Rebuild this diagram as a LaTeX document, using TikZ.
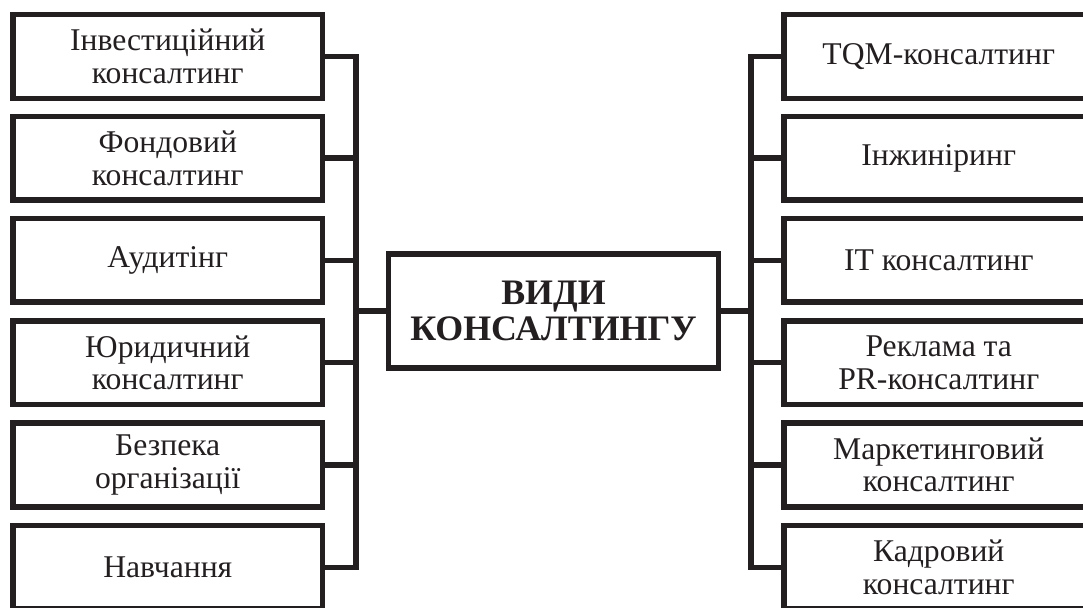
\documentclass[tikz,border=0pt]{standalone}
\usepackage{fontspec}
\setmainfont{Liberation Serif}
\definecolor{ink}{RGB}{35,31,32}
\tikzset{
    kind/.style={draw=ink, line width=3.9pt, minimum width=7.74cm,
                 minimum height=2.09cm, inner sep=2pt, align=center,
                 text=ink, font=\fontsize{22.5}{23.2}\selectfont},
    hub/.style={kind, minimum width=8.25cm, minimum height=2.86cm,
                font=\fontsize{25.5}{25}\selectfont\bfseries},
    link/.style={draw=ink, line width=3.9pt},
}

\begin{document}
\begin{tikzpicture}[x=0.025cm, y=-0.025cm]
    \path[use as bounding box] (0,0) rectangle (1083,607);
    \clip (0,0) rectangle (1083,607);

    \node[hub] (types) at (553.5,311) {ВИДИ\\КОНСАЛТИНГУ};

    % left column
    \node[kind] (invest) at (167.75,56.5) {Інвестиційний\\консалтинг};
    \node[kind] (fund) at (167.75,158.05) {Фондовий\\консалтинг};
    \node[kind] (audit) at (167.75,260.35) {Аудитінг};
    \node[kind] (legal) at (167.75,362.65) {Юридичний\\консалтинг};
    \node[kind] (safety) at (167.75,464.95) {Безпека\\організації};
    \node[kind] (train) at (167.75,567.25) {Навчання};

    % right column
    \node[kind] (tqm) at (938.75,56.5) {TQM-консалтинг};
    \node[kind] (engin) at (938.75,158.05) {Інжиніринг};
    \node[kind] (it) at (938.75,260.35) {IT консалтинг};
    \node[kind] (pr) at (938.75,362.65) {Реклама та\\PR-консалтинг};
    \node[kind] (market) at (938.75,464.95) {Маркетинговий\\консалтинг};
    \node[kind] (staff) at (938.75,567.25) {Кадровий\\консалтинг};

    \coordinate (joinL) at (356,311);
    \coordinate (joinR) at (751,311);

    \draw[link] (invest.east) -| (joinL);
    \draw[link] (fund.east) -| (joinL);
    \draw[link] (audit.east) -| (joinL);
    \draw[link] (legal.east) -| (joinL);
    \draw[link] (safety.east) -| (joinL);
    \draw[link] (train.east) -| (joinL);
    \draw[link] (joinL) -- (types.west);

    \draw[link] (tqm.west) -| (joinR);
    \draw[link] (engin.west) -| (joinR);
    \draw[link] (it.west) -| (joinR);
    \draw[link] (pr.west) -| (joinR);
    \draw[link] (market.west) -| (joinR);
    \draw[link] (staff.west) -| (joinR);
    \draw[link] (joinR) -- (types.east);
\end{tikzpicture}
\end{document}
